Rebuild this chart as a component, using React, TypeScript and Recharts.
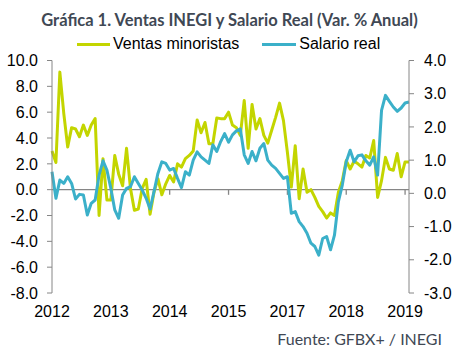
import React from "react";
import { LineChart, Line, XAxis, YAxis, ReferenceLine } from "recharts";

// monthly categories, Jan 2012 - Aug 2019
const months: string[] = [];
for (let y = 2012; y <= 2019; y++) {
  for (let m = 1; m <= 12; m++) {
    if (months.length < 92) months.push(`${y}-${String(m).padStart(2, "0")}`);
  }
}

const ventas = [
  3.0, 2.1, 9.1, 5.9, 3.3, 4.8, 4.7, 4.1, 5.0, 4.2, 5.0, 5.5,
  -2.0, 2.4, -0.8, -0.8, 2.65, 1.2, 0.3, 3.2, 0.1, -1.6, -1.5, 0.1,
  0.8, -1.9, -0.2, 0.85, -0.4, 0.45, 1.1, 0.6, 2.0, 1.75, 2.4, 2.65,
  3.0, 5.4, 4.4, 5.2, 3.55, 3.55, 5.55, 5.5, 5.5, 6.0, 5.0, 4.8,
  4.2, 6.9, 3.2, 6.6, 4.7, 5.5, 4.2, 3.6, 4.6, 5.6, 6.7, 5.35,
  2.9, 0.2, 3.4, -0.7, 1.6, -0.2, 0.0, -0.6, -1.3, -1.7, -2.2, -1.8,
  -2.0, -0.2, 0.7, 2.25, 1.6, 2.2, 2.0, 1.75, 2.65, 2.45, 3.8, -0.6,
  0.7, 2.5, 1.6, 1.5, 2.8, 1.0, 2.15, 2.15,
];

const salario = [
  0.65, -0.15, 0.4, 0.3, 0.5, 0.3, -0.17, -0.03, -0.05, -0.65, -0.3, -0.2,
  0.55, 0.98, 0.7, 0.15, -0.5, -0.75, -0.05, 0.15, 0.2, 0.5, 0.3, 0.1,
  -0.15, -0.47, 0.05, 0.6, 0.95, 0.9, 0.7, 0.75, 0.45, 0.17, 0.65, 0.55,
  1.0, 1.25, 1.1, 1.0, 0.9, 1.46, 1.26, 1.56, 1.8, 1.54, 1.76, 1.88,
  1.94, 1.16, 0.9, 1.26, 0.98, 1.36, 1.5, 1.0, 0.85, 0.75, 0.6, 0.45,
  0.5, -0.6, -0.55, -0.85, -1.0, -1.2, -1.5, -1.6, -1.86, -1.36, -1.3, -1.7,
  -1.26, -0.25, 0.25, 0.95, 1.3, 0.95, 1.13, 1.16, 0.98, 0.85, 1.1, 0.55,
  2.5, 2.95, 2.77, 2.6, 2.47, 2.57, 2.72, 2.75,
];

const leftTicks = [-8, -6, -4, -2, 0, 2, 4, 6, 8, 10];
const rightTicks = [-3, -2, -1, 0, 1, 2, 3, 4];
const labelEvery = 15;

const data = months.map((month, i) => ({
  month,
  ventas: ventas[i],
  salario: salario[i],
}));

const GREEN = "#c3d500";
const BLUE = "#3bb0c9";
const AXIS = "#868686";
const tickFont = { fontFamily: "'Liberation Sans', Arial, sans-serif", fontSize: 16, fill: "#000" };

export default function App() {
  const markIdx = months.map((_, i) => i).filter((i) => i > 0 && i % labelEvery === 0);
  return (
    <div style={{ position: "absolute", left: 0, top: 0, width: 459, height: 354, background: "#fff" }}>
      <div
        style={{
          position: "absolute",
          left: 0,
          width: 459,
          top: 10,
          textAlign: "center",
          fontFamily: "Lato, sans-serif",
          fontWeight: 700,
          fontSize: 16.5,
          color: "#404854",
          whiteSpace: "nowrap",
        }}
      >
        Gráfica 1. Ventas INEGI y Salario Real (Var. % Anual)
      </div>
      <div
        style={{
          position: "absolute",
          left: 77,
          top: 35,
          display: "flex",
          alignItems: "center",
          fontFamily: "'Liberation Sans', Arial, sans-serif",
          fontSize: 16,
          color: "#000",
          whiteSpace: "nowrap",
        }}
      >
        <span style={{ display: "inline-block", width: 33, height: 3, background: GREEN, marginRight: 3 }} />
        <span>Ventas minoristas</span>
        <span style={{ display: "inline-block", width: 34, height: 3, background: BLUE, marginLeft: 23, marginRight: 3 }} />
        <span>Salario real</span>
      </div>
      <LineChart
        width={459}
        height={354}
        data={data}
        margin={{ top: 60.5, right: 5, bottom: 31, left: 0 }}
      >
        <XAxis
          dataKey="month"
          interval={labelEvery - 1}
          tickFormatter={(v: string) => v.slice(0, 4)}
          axisLine={false}
          tickLine={false}
          tickSize={6}
          tickMargin={7}
          height={30}
          tick={tickFont}
        />
        <YAxis
          yAxisId="left"
          domain={[-8, 10]}
          ticks={leftTicks}
          tickFormatter={(v: number) => v.toFixed(1)}
          width={52}
          stroke={AXIS}
          tickSize={5}
          tickMargin={9}
          tick={tickFont}
          allowDataOverflow
        />
        <YAxis
          yAxisId="right"
          orientation="right"
          domain={[-3, 4]}
          ticks={rightTicks}
          tickFormatter={(v: number) => v.toFixed(1)}
          width={45}
          stroke={AXIS}
          tickSize={5}
          tickMargin={10}
          tick={{ ...tickFont, textAnchor: "start" }}
          allowDataOverflow
        />
        <ReferenceLine yAxisId="left" y={0} stroke={AXIS} strokeWidth={1.3} />
        {markIdx.map((i) => (
          <ReferenceLine
            key={i}
            yAxisId="left"
            stroke={AXIS}
            strokeWidth={1.3}
            segment={[
              { x: months[i], y: 0 },
              { x: months[i], y: -0.4 },
            ]}
          />
        ))}
        <Line
          yAxisId="left"
          dataKey="ventas"
          stroke={GREEN}
          strokeWidth={3}
          dot={false}
          type="linear"
          strokeLinejoin="round"
          isAnimationActive={false}
        />
        <Line
          yAxisId="right"
          dataKey="salario"
          stroke={BLUE}
          strokeWidth={3}
          dot={false}
          type="linear"
          strokeLinejoin="round"
          isAnimationActive={false}
        />
      </LineChart>
      <div
        style={{
          position: "absolute",
          right: 17,
          top: 329,
          fontFamily: "Lato, sans-serif",
          fontSize: 16,
          color: "#404854",
          whiteSpace: "nowrap",
        }}
      >
        Fuente: GFBX+ / INEGI
      </div>
    </div>
  );
}
